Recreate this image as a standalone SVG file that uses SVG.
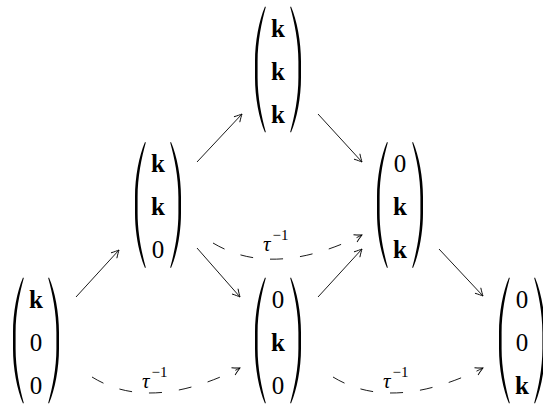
<svg xmlns="http://www.w3.org/2000/svg" xmlns:xlink="http://www.w3.org/1999/xlink" width="543" height="405" viewBox="0 0 543 405">
<style>
.e{font-family:'Liberation Serif','DejaVu Serif',serif;font-size:25px;text-anchor:middle;fill:#000}
.b{font-weight:bold}
.par{fill:#000}
.ar{fill:none;stroke:#000;stroke-width:0.9}
.da{fill:none;stroke:#000;stroke-width:0.9;stroke-dasharray:13 17}
.lab{font-family:'Liberation Serif','DejaVu Serif',serif;font-size:21px;font-style:italic;fill:#000}
.sup{font-style:normal;font-size:15px}
</style>
<defs>
<path id="lp" d="M-13,0 C-19,14 -23,35 -23,55 L-23,71 C-23,91 -19,112 -13,126 L-12.2,125.5 C-16.5,110 -20.4,91 -20.4,71 L-20.4,55 C-20.4,35 -16.5,16 -12.2,0.5 Z"/>
<marker id="to" markerUnits="userSpaceOnUse" markerWidth="20" markerHeight="20" refX="0" refY="0" orient="auto" overflow="visible">
<path d="M-7.5,-4 C-4.8,-2.3 -1.6,-0.8 0,0 C-1.6,0.8 -4.8,2.3 -7.5,4" fill="none" stroke="#000" stroke-width="0.9"/>
</marker>
</defs>

<g id="m1" transform="translate(36,277.5)">
<use xlink:href="#lp" class="par"/><use xlink:href="#lp" class="par" transform="scale(-1,1)"/>
<text class="e b" x="0" y="30">k</text><text class="e" x="0" y="73">0</text><text class="e" x="0" y="116">0</text>
</g>
<g id="m2" transform="translate(158,142)">
<use xlink:href="#lp" class="par"/><use xlink:href="#lp" class="par" transform="scale(-1,1)"/>
<text class="e b" x="0" y="30">k</text><text class="e b" x="0" y="73">k</text><text class="e" x="0" y="116">0</text>
</g>
<g id="m3" transform="translate(278,6.5)">
<use xlink:href="#lp" class="par"/><use xlink:href="#lp" class="par" transform="scale(-1,1)"/>
<text class="e b" x="0" y="30">k</text><text class="e b" x="0" y="73">k</text><text class="e b" x="0" y="116">k</text>
</g>
<g id="m4" transform="translate(400,142)">
<use xlink:href="#lp" class="par"/><use xlink:href="#lp" class="par" transform="scale(-1,1)"/>
<text class="e" x="0" y="30">0</text><text class="e b" x="0" y="73">k</text><text class="e b" x="0" y="116">k</text>
</g>
<g id="m5" transform="translate(278,277.5)">
<use xlink:href="#lp" class="par"/><use xlink:href="#lp" class="par" transform="scale(-1,1)"/>
<text class="e" x="0" y="30">0</text><text class="e b" x="0" y="73">k</text><text class="e" x="0" y="116">0</text>
</g>
<g id="m6" transform="translate(522,277.5)">
<use xlink:href="#lp" class="par"/><use xlink:href="#lp" class="par" transform="scale(-1,1)"/>
<text class="e" x="0" y="30">0</text><text class="e" x="0" y="73">0</text><text class="e b" x="0" y="116">k</text>
</g>

<g id="connectors">
<path class="ar" marker-end="url(#to)" d="M76,297 L119,250"/>
<path class="ar" marker-end="url(#to)" d="M197,162 L242,114"/>
<path class="ar" marker-end="url(#to)" d="M318,114 L362,162"/>
<path class="ar" marker-end="url(#to)" d="M197,248 L240,297"/>
<path class="ar" marker-end="url(#to)" d="M318,297 L362,249"/>
<path class="ar" marker-end="url(#to)" d="M439,249 L483,296"/>
<path class="da" marker-end="url(#to)" d="M92,377 Q150,413 240,368"/>
<path class="da" marker-end="url(#to)" d="M213,243 Q273,279 362,235"/>
<path class="da" marker-end="url(#to)" d="M333,377 Q392,413 483,368"/>
<text class="lab" x="142" y="388">τ<tspan class="sup" dx="2" dy="-11">−1</tspan></text>
<text class="lab" x="263" y="251">τ<tspan class="sup" dx="2" dy="-11">−1</tspan></text>
<text class="lab" x="383" y="388">τ<tspan class="sup" dx="2" dy="-11">−1</tspan></text>
</g>
</svg>
